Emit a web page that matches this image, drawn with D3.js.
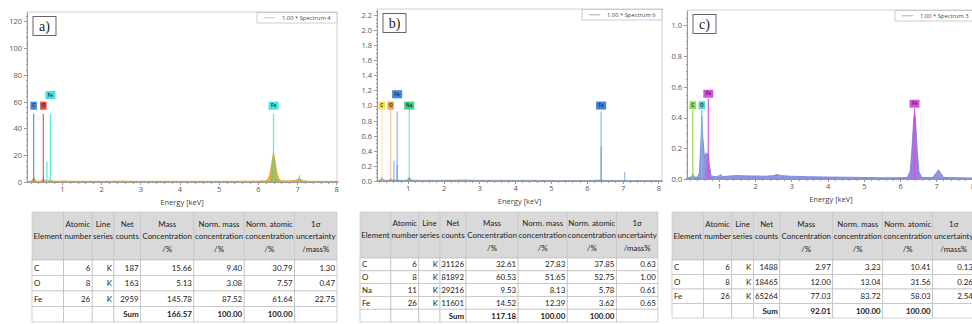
<!DOCTYPE html>
<meta charset="utf-8">
<style>
body { margin: 0; background: #fff; }
svg { display: block; }
.axis text { font-family: "Open Sans", sans-serif; font-size: 7.5px; fill: #555; }
.axis path, .axis line { stroke: #9a9a9a; shape-rendering: crispEdges; }
.xlabel { font-family: "Open Sans", sans-serif; font-size: 7.5px; fill: #444; }
.legend text { font-family: "Open Sans", sans-serif; font-size: 5.8px; fill: #444; }
.tag text { font-family: "Open Sans", sans-serif; font-size: 4.6px; font-weight: bold; }
.plabel { font-family: "Liberation Serif", serif; font-size: 14px; fill: #222; }
.tbl text { font-family: Lato, sans-serif; font-size: 7.9px; fill: #222; }
.tbl text.bold { font-weight: bold; }
</style>
<body>
<script src="https://cdn.jsdelivr.net/npm/d3@7"></script>
<script>
var width = 972,
    height = 324;

// spectra as [energy keV, counts]
var spectrumA = [[0.11,0.4],[0.2,0.6],[0.24,1.2],[0.27,2.8],[0.29,3.0],[0.32,1.2],[0.38,0.6],[0.45,0.7],
  [0.49,1.2],[0.52,2.6],[0.55,1.5],[0.6,0.8],[0.66,1.2],[0.71,1.6],[0.76,0.8],[0.85,0.6],[1.0,0.7],
  [1.05,0.9],[1.1,0.6],[1.5,0.6],[2.0,0.5],[2.6,0.7],[3.0,0.5],[3.5,0.6],[4.0,0.5],[4.5,0.6],[5.0,0.5],
  [5.5,0.6],[6.0,0.7],[6.2,0.9],[6.26,2.0],[6.31,6],[6.36,15],[6.40,22],[6.44,15],[6.49,6],[6.54,2],
  [6.6,0.9],[6.8,0.8],[6.95,1.2],[7.02,2.0],[7.06,2.4],[7.1,1.8],[7.16,0.9],[7.3,0.6],[7.6,0.5],[8.05,0.5]];
var fitA = [[6.3,0],[6.34,4],[6.37,14],[6.40,26],[6.43,14],[6.46,4],[6.5,0],[7.0,0],[7.04,2],[7.06,4.5],[7.08,2],[7.12,0]];

var spectrumB = [[0.14,0.005],[0.22,0.01],[0.26,0.03],[0.28,0.05],[0.3,0.03],[0.34,0.01],[0.45,0.008],
  [0.5,0.015],[0.525,0.03],[0.55,0.015],[0.6,0.01],[0.7,0.012],[0.8,0.008],[0.98,0.01],[1.02,0.035],
  [1.04,0.045],[1.07,0.03],[1.12,0.01],[1.5,0.008],[2.0,0.01],[2.6,0.012],[3.0,0.009],[4.0,0.008],
  [5.0,0.007],[6.0,0.006],[6.38,0.012],[6.42,0.008],[7.0,0.005],[8.1,0.004]];

var spectrumC = [[0.1,0.005],[0.2,0.01],[0.26,0.02],[0.28,0.035],[0.3,0.015],[0.4,0.01],[0.46,0.04],
  [0.5,0.25],[0.525,0.41],[0.55,0.28],[0.6,0.14],[0.65,0.17],[0.7,0.16],[0.74,0.08],[0.78,0.02],
  [0.9,0.015],[1.0,0.02],[1.05,0.028],[1.1,0.015],[1.3,0.02],[1.5,0.022],[1.8,0.02],[2.0,0.02],
  [2.3,0.018],[2.5,0.022],[2.6,0.03],[2.7,0.022],[3.0,0.018],[3.5,0.015],[4.0,0.013],[4.5,0.012],
  [5.0,0.01],[5.5,0.008],[6.0,0.008],[6.2,0.01],[6.28,0.05],[6.33,0.2],[6.38,0.4],[6.40,0.43],
  [6.43,0.38],[6.47,0.2],[6.52,0.05],[6.6,0.01],[6.9,0.01],[7.0,0.04],[7.06,0.06],[7.12,0.04],
  [7.2,0.01],[8.1,0.006]];
var ironC = [[0.6,0],[0.64,0.12],[0.68,0.17],[0.72,0.15],[0.76,0.05],[0.8,0],[6.26,0],[6.3,0.08],
  [6.34,0.25],[6.38,0.41],[6.40,0.43],[6.42,0.40],[6.46,0.25],[6.5,0.08],[6.54,0]];

// element lines: energy, top of line, tag height (y units)
var linesA = [
  {el: "C", e: 0.277, top: 51, tag: 57},
  {el: "O", e: 0.525, top: 51, tag: 57},
  {el: "Fe", e: 0.615, top: 15},
  {el: "Fe", e: 0.705, top: 51, tag: 65},
  {el: "Fe", e: 6.40, top: 51, tag: 57},
  {el: "Fe", e: 7.06, top: 5}
];
var linesB = [
  {el: "C", e: 0.277, top: 1.0, tag: 1.0},
  {el: "O", e: 0.525, top: 1.0, tag: 1.0},
  {el: "Fe", e: 0.615, top: 0.27},
  {el: "Fe", e: 0.705, top: 0.92, tag: 1.15},
  {el: "Fe", e: 0.705, top: 0.22},
  {el: "Na", e: 1.041, top: 1.0, tag: 1.0},
  {el: "Fe", e: 6.40, top: 0.92, tag: 1.0},
  {el: "Fe", e: 6.40, top: 0.45},
  {el: "Fe", e: 7.06, top: 0.12}
];
var linesC = [
  {el: "C", e: 0.277, top: 0.45, tag: 0.48},
  {el: "O", e: 0.525, top: 0.45, tag: 0.48},
  {el: "Fe", e: 0.705, top: 0.52, tag: 0.555},
  {el: "Fe", e: 6.40, top: 0.46, tag: 0.49}
];

var xTicks = [1, 2, 3, 4, 5, 6, 7, 8];
var yTicksA = [0, 20, 40, 60, 80, 100, 120];
var yTicksB = [0, 0.2, 0.4, 0.6, 0.8, 1.0, 1.2, 1.4, 1.6, 1.8, 2.0, 2.2];
var yTicksC = [0, 0.2, 0.4, 0.6, 0.8, 1.0];

// quantification tables
var headers = [["", "Element", ""], ["Atomic", "number", ""], ["Line", "series", ""], ["Net", "counts", ""],
  ["Mass", "Concentration", "/%"], ["Norm. mass", "concentration", "/%"],
  ["Norm. atomic", "concentration", "/%"], ["1\u03c3", "uncertainty", "/mass%"]];
var rowsA = [["C", 6, "K", 187, 15.66, 9.40, 30.79, 1.30],
             ["O", 8, "K", 163, 5.13, 3.08, 7.57, 0.47],
             ["Fe", 26, "K", 2959, 145.78, 87.52, 61.64, 22.75]];
var sumA = [166.57, 100.00, 100.00];
var rowsB = [["C", 6, "K", 31126, 32.61, 27.83, 37.85, 0.63],
             ["O", 8, "K", 81892, 60.53, 51.65, 52.75, 1.00],
             ["Na", 11, "K", 29216, 9.53, 8.13, 5.78, 0.61],
             ["Fe", 26, "K", 11601, 14.52, 12.39, 3.62, 0.65]];
var sumB = [117.18, 100.00, 100.00];
var rowsC = [["C", 6, "K", 1488, 2.97, 3.23, 10.41, 0.13],
             ["O", 8, "K", 18465, 12.00, 13.04, 31.56, 0.26],
             ["Fe", 26, "K", 65264, 77.03, 83.72, 58.03, 2.54]];
var sumC = [92.01, 100.00, 100.00];

var colWidths = [32, 29, 22, 27, 54, 51, 51, 43];

var svg = d3.select("body").append("svg")
    .attr("width", width)
    .attr("height", height);

var panels = [
  {id: "a", name: "a)", left: 27, right: 337, top: 12, bottom: 182, xDomain: [0.107, 8.02], yDomain: [0, 127],
   yTicks: yTicksA, yMinor: 4, yFmt: "d", clipX: [0, 339], spectrum: spectrumA, overlay: fitA,
   fill: "#f0a93c", stroke: "#e39a2a", overlayFill: "#7fc05a", overlayOpacity: 0.75, lines: linesA, lineOpacity: 0.85,
   colors: {C: "#3f88e6", O: "#e8494c", Fe: "#3fe6e6"}, legend: "1.00 * Spectrum 4", legendColor: "#f3c070",
   table: {rows: rowsA, sum: sumA, left: 32, top: 212, scale: 0.987, headH: 48, rowH: 15.5}},
  {id: "b", name: "b)", left: 377, right: 662, top: 9, bottom: 181, xDomain: [0.142, 8.1], yDomain: [0, 2.28],
   yTicks: yTicksB, yMinor: 0.05, yFmt: ".1f", clipX: [339, 664], spectrum: spectrumB, overlay: null,
   fill: "#9aa79a", stroke: "#8a97ad", lines: linesB, lineOpacity: 0.55,
   colors: {C: "#f2e545", O: "#f0a050", Fe: "#3d86e0", Na: "#3fd38a"}, legend: "1.00 * Spectrum 6", legendColor: "#aaa",
   table: {rows: rowsB, sum: sumB, left: 360, top: 212, scale: 0.964, headH: 46, rowH: 12.8}},
  {id: "c", name: "c)", left: 687, right: 975, top: 10, bottom: 179, xDomain: [0.116, 8.07], yDomain: [0, 1.1],
   yTicks: yTicksC, yMinor: 0.05, yFmt: ".1f", clipX: [664, 972], spectrum: spectrumC, overlay: ironC,
   fill: "#9596dc", stroke: "#6d80d0", overlayFill: "#9c62d6", overlayOpacity: 0.4, lines: linesC, lineOpacity: 0.9,
   colors: {C: "#8fe04a", O: "#4fd6e2", Fe: "#d84fe4"}, legend: "1.00 * Spectrum 3", legendColor: "#aaa",
   table: {rows: rowsC, sum: sumC, left: 672, top: 212, scale: 0.98, headH: 48, rowH: 14.5}}
];

panels.forEach(function(p) {
  drawPanel(p);
  drawTable(p);
});

function drawPanel(p) {
  var clip = "clip-" + p.id;
  svg.append("clipPath").attr("id", clip)
    .append("rect")
    .attr("x", p.clipX[0]).attr("y", 0)
    .attr("width", p.clipX[1] - p.clipX[0]).attr("height", height);

  var g = svg.append("g").attr("clip-path", "url(#" + clip + ")");

  var x = d3.scaleLinear().domain(p.xDomain).range([p.left, p.right]);
  var y = d3.scaleLinear().domain(p.yDomain).range([p.bottom, p.top]);

  g.append("rect")
    .attr("x", p.left).attr("y", p.top)
    .attr("width", p.right - p.left).attr("height", p.bottom - p.top)
    .attr("fill", "#fff").attr("stroke", "#d2d2d2");

  var area = d3.area()
    .x(function(d) { return x(d[0]); })
    .y0(y(0))
    .y1(function(d) { return y(d[1]); });

  g.append("path")
    .datum(p.spectrum)
    .attr("d", area)
    .attr("fill", p.fill)
    .attr("stroke", p.stroke)
    .attr("stroke-width", 0.8);

  if (p.overlay) {
    g.append("path")
      .datum(p.overlay)
      .attr("d", area)
      .attr("fill", p.overlayFill)
      .attr("fill-opacity", p.overlayOpacity);
  }

  g.selectAll(".el-line")
    .data(p.lines)
    .enter().append("line")
    .attr("class", "el-line")
    .attr("x1", function(d) { return x(d.e); })
    .attr("x2", function(d) { return x(d.e); })
    .attr("y1", y(0))
    .attr("y2", function(d) { return y(d.top); })
    .attr("stroke", function(d) { return p.colors[d.el]; })
    .attr("stroke-opacity", p.lineOpacity)
    .attr("stroke-width", 1.3);

  var tag = g.selectAll(".tag")
    .data(p.lines.filter(function(d) { return d.tag != null; }))
    .enter().append("g")
    .attr("class", "tag")
    .attr("transform", function(d) { return "translate(" + x(d.e) + "," + y(d.tag) + ")"; });

  tag.append("rect")
    .attr("x", function(d) { return -(d.el.length * 3.5 + 3) / 2; })
    .attr("y", -4)
    .attr("width", function(d) { return d.el.length * 3.5 + 3; })
    .attr("height", 8)
    .attr("fill", function(d) { return p.colors[d.el]; });

  tag.append("text")
    .attr("text-anchor", "middle")
    .attr("y", 1.7)
    .attr("fill", "#333")
    .text(function(d) { return d.el; });

  // axes, minor ticks first
  g.append("g")
    .attr("class", "axis")
    .attr("transform", "translate(0," + p.bottom + ")")
    .call(d3.axisBottom(x).tickValues(d3.range(0.2, 8.1, 0.2)).tickSize(1.5).tickSizeOuter(0).tickFormat(""));
  g.append("g")
    .attr("class", "axis")
    .attr("transform", "translate(0," + p.bottom + ")")
    .call(d3.axisBottom(x).tickValues(xTicks).tickSize(3).tickSizeOuter(0).tickPadding(2).tickFormat(d3.format("d")));

  g.append("g")
    .attr("class", "axis")
    .attr("transform", "translate(" + p.left + ",0)")
    .call(d3.axisLeft(y).tickValues(d3.range(0, p.yDomain[1], p.yMinor)).tickSize(1.5).tickSizeOuter(0).tickFormat(""));
  g.append("g")
    .attr("class", "axis")
    .attr("transform", "translate(" + p.left + ",0)")
    .call(d3.axisLeft(y).tickValues(p.yTicks).tickSize(3).tickSizeOuter(0).tickPadding(2).tickFormat(d3.format(p.yFmt)));

  g.append("text")
    .attr("class", "xlabel")
    .attr("x", (p.left + p.right) / 2)
    .attr("y", p.bottom + 23)
    .attr("text-anchor", "middle")
    .text("Energy [keV]");

  // legend
  var lg = g.append("g")
    .attr("class", "legend")
    .attr("transform", "translate(" + (p.right - 80) + "," + (p.top + 0.5) + ")");
  lg.append("rect")
    .attr("width", 80).attr("height", 10.5)
    .attr("fill", "#fff").attr("stroke", "#b8b8b8").attr("stroke-width", 0.7);
  lg.append("line")
    .attr("x1", 7).attr("x2", 18).attr("y1", 5.3).attr("y2", 5.3)
    .attr("stroke", p.legendColor).attr("stroke-width", 1);
  lg.append("text")
    .attr("x", 25).attr("y", 7.3)
    .text(p.legend);

  // panel letter
  g.append("rect")
    .attr("x", p.left + 6).attr("y", p.top + 4.5)
    .attr("width", 23).attr("height", 19)
    .attr("fill", "#fff").attr("stroke", "#555").attr("stroke-width", 0.9);
  g.append("text")
    .attr("class", "plabel")
    .attr("x", p.left + 17.5).attr("y", p.top + 19)
    .attr("text-anchor", "middle")
    .text(p.name);
}

function drawTable(p) {
  var t = p.table;
  var xs = [t.left];
  colWidths.forEach(function(w) { xs.push(xs[xs.length - 1] + w * t.scale); });
  var f2 = d3.format(".2f");

  var cells = [];
  headers.forEach(function(h, i) {
    cells.push({x0: xs[i], x1: xs[i + 1], y0: t.top, y1: t.top + t.headH, head: true, lines: h});
  });
  t.rows.forEach(function(r, j) {
    var y0 = t.top + t.headH + j * t.rowH;
    r.forEach(function(v, i) {
      cells.push({x0: xs[i], x1: xs[i + 1], y0: y0, y1: y0 + t.rowH,
        text: i < 4 ? String(v) : f2(v), left: i === 0});
    });
  });
  var ys = t.top + t.headH + t.rows.length * t.rowH;
  var sumRow = ["", "", "", "Sum", f2(t.sum[0]), f2(t.sum[1]), f2(t.sum[2]), ""];
  sumRow.forEach(function(s, i) {
    cells.push({x0: xs[i], x1: xs[i + 1], y0: ys, y1: ys + t.rowH, text: s, bold: true});
  });

  var g = svg.append("g")
    .attr("class", "tbl")
    .attr("clip-path", "url(#clip-" + p.id + ")");

  var cell = g.selectAll(".cell")
    .data(cells)
    .enter().append("g")
    .attr("class", "cell");

  cell.append("rect")
    .attr("x", function(d) { return d.x0; })
    .attr("y", function(d) { return d.y0; })
    .attr("width", function(d) { return d.x1 - d.x0; })
    .attr("height", function(d) { return d.y1 - d.y0; })
    .attr("fill", function(d) { return d.head ? "#d9d9d9" : "#fff"; })
    .attr("stroke", function(d) { return d.head ? "#c6c6c6" : "#bdbdbd"; })
    .attr("stroke-width", 0.7);

  // three header lines around the cell middle
  cell.filter(function(d) { return d.head; })
    .selectAll("text")
    .data(function(d) {
      var mid = (d.y0 + d.y1) / 2;
      return d.lines.map(function(s, k) {
        return {x: (d.x0 + d.x1) / 2, y: mid + (k - 1) * 12.5 + 3, s: s};
      });
    })
    .enter().append("text")
    .attr("x", function(d) { return d.x; })
    .attr("y", function(d) { return d.y; })
    .attr("text-anchor", "middle")
    .text(function(d) { return d.s; });

  cell.filter(function(d) { return !d.head; })
    .append("text")
    .attr("class", function(d) { return d.bold ? "bold" : null; })
    .attr("x", function(d) { return d.left ? d.x0 + 2 : d.x1 - 2; })
    .attr("y", function(d) { return (d.y0 + d.y1) / 2 + 3; })
    .attr("text-anchor", function(d) { return d.left ? "start" : "end"; })
    .text(function(d) { return d.text; });
}
</script>
</body>
